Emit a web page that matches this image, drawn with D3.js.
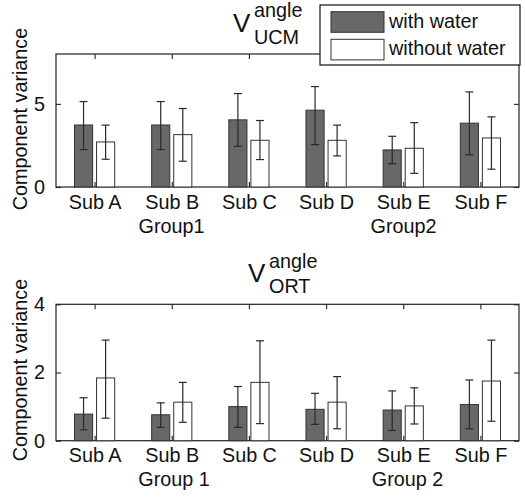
<!DOCTYPE html>
<html><head><meta charset="utf-8">
<script src="https://cdn.jsdelivr.net/npm/d3@7"></script>
<style>
body{margin:0;background:#fff;}
text{font-family:"Liberation Sans",Arial,sans-serif;fill:#111;}
</style></head><body>
<svg id="c" width="525" height="499"></svg>
<script>
const subjects = ["Sub A","Sub B","Sub C","Sub D","Sub E","Sub F"];
const seriesNames = ["with water","without water"];
// UCM panel
const ucmWith      = [3.73, 3.73, 4.04, 4.62, 2.23, 3.84];
const ucmWithHi    = [5.14, 5.14, 5.62, 6.04, 3.05, 5.72];
const ucmWithLo    = [2.25, 2.25, 2.45, 2.55, 1.40, 1.93];
const ucmWithout   = [2.71, 3.15, 2.81, 2.81, 2.33, 2.95];
const ucmWithoutHi = [3.72, 4.72, 4.00, 3.72, 3.87, 4.22];
const ucmWithoutLo = [1.67, 1.55, 1.65, 1.87, 0.82, 1.07];
const ucmTicks = [0, 5];
const ucmGroups = ["Group1", "Group2"];
// ORT panel
const ortWith      = [0.78, 0.76, 1.00, 0.92, 0.90, 1.06];
const ortWithHi    = [1.26, 1.11, 1.59, 1.39, 1.46, 1.78];
const ortWithLo    = [0.32, 0.39, 0.39, 0.48, 0.30, 0.35];
const ortWithout   = [1.84, 1.13, 1.71, 1.13, 1.02, 1.75];
const ortWithoutHi = [2.95, 1.71, 2.93, 1.88, 1.55, 2.95];
const ortWithoutLo = [0.66, 0.54, 0.50, 0.35, 0.49, 0.57];
const ortTicks = [0, 2, 4];
const ortGroups = ["Group 1", "Group 2"];

const svg = d3.select("#c");
const DARK = "#686868";
const FS = 19.8;

function panel(o){
  const g = svg.append("g");
  const x = d3.scaleLinear().domain([0.5, 6.5]).range([56, 519]);
  const y = d3.scaleLinear().domain([0, o.ymax]).range([o.bottom, o.top]);
  const off = 0.143, bw = 0.235;
  const series = [
    {v:o.w, hi:o.wHi, lo:o.wLo, fill:DARK, d:-off},
    {v:o.wo, hi:o.woHi, lo:o.woLo, fill:"#fff", d:off}
  ];
  g.append("rect").attr("x",x(0.5)).attr("y",y(o.ymax))
    .attr("width",x(6.5)-x(0.5)).attr("height",y(0)-y(o.ymax))
    .attr("fill","none").attr("stroke","#222").attr("stroke-width",1.2);
  series.forEach(s=>{
    g.selectAll(null).data(s.v).enter().append("rect")
      .attr("x",(d,i)=>x(i+1+s.d-bw/2)).attr("width",x(bw)-x(0))
      .attr("y",d=>y(d)).attr("height",d=>y(0)-y(d))
      .attr("fill",s.fill).attr("stroke","#333").attr("stroke-width",1);
  });
  series.forEach(s=>{
    s.v.forEach((d,i)=>{
      const cx = x(i+1+s.d);
      const eg = g.append("g").attr("stroke","#2a2a2a").attr("stroke-width",1.2);
      eg.append("line").attr("x1",cx).attr("x2",cx).attr("y1",y(s.hi[i])).attr("y2",y(s.lo[i]));
      eg.append("line").attr("x1",cx-4).attr("x2",cx+4).attr("y1",y(s.hi[i])).attr("y2",y(s.hi[i]));
      eg.append("line").attr("x1",cx-4).attr("x2",cx+4).attr("y1",y(s.lo[i])).attr("y2",y(s.lo[i]));
    });
  });
  const tickLen = 5;
  const ax = (axis, tr)=>{
    const a = g.append("g").attr("transform",tr).call(axis);
    a.select(".domain").remove();
    a.selectAll("line").attr("stroke","#222").attr("stroke-width",1.1);
    a.selectAll("text").attr("font-size",FS).attr("font-family","Liberation Sans, Arial, sans-serif").attr("fill","#111");
    return a;
  };
  ax(d3.axisLeft(y).tickValues(o.ticks).tickSize(-tickLen).tickPadding(6+tickLen).tickFormat(d3.format("d")), `translate(${x(0.5)},0)`);
  ax(d3.axisRight(y).tickValues(o.ticks).tickSize(-tickLen).tickFormat(""), `translate(${x(6.5)},0)`);
  const xb = ax(d3.axisBottom(x).tickValues(d3.range(1,7)).tickSize(-tickLen).tickPadding(0).tickFormat((d)=>subjects[d-1]), `translate(0,${y(0)})`);
  xb.selectAll("text").attr("dy",null).attr("y",o.subY - y(0));
  ax(d3.axisTop(x).tickValues(d3.range(1,7)).tickSize(-tickLen).tickFormat(""), `translate(0,${y(o.ymax)})`);
  g.selectAll(null).data(o.groups).enter().append("text")
    .attr("x",(d,i)=>o.groupX[i]).attr("y",o.groupY).attr("text-anchor","middle")
    .attr("font-size",FS).text(d=>d);
  g.append("text").attr("transform",`translate(${o.ylabX},${o.ylabY}) rotate(-90)`)
    .attr("text-anchor","middle").attr("font-size",FS).text("Component variance");
  const t = o.title;
  g.append("text").attr("x",t.x).attr("y",t.vy).attr("font-size",26).text("V");
  g.append("text").attr("x",t.x+21).attr("y",t.sy).attr("font-size",FS).text("angle");
  g.append("text").attr("x",t.x+21).attr("y",t.uy).attr("font-size",FS).text(t.sub);
  return {x,y};
}

panel({ymax:8, top:54, bottom:187, w:ucmWith, wHi:ucmWithHi, wLo:ucmWithLo,
  wo:ucmWithout, woHi:ucmWithoutHi, woLo:ucmWithoutLo, ticks:ucmTicks,
  groups:ucmGroups, groupX:[171.5,403.5], groupY:233, subY:209,
  ylabX:27, ylabY:119, title:{x:233, vy:32, sy:17, uy:44, sub:"UCM"}});

panel({ymax:4, top:304.3, bottom:440.7, w:ortWith, wHi:ortWithHi, wLo:ortWithLo,
  wo:ortWithout, woHi:ortWithoutHi, woLo:ortWithoutLo, ticks:ortTicks,
  groups:ortGroups, groupX:[174,407.5], groupY:486, subY:462,
  ylabX:27, ylabY:370, title:{x:248, vy:282, sy:268, uy:293, sub:"ORT"}});

const lg = svg.append("g");
lg.append("rect").attr("x",320).attr("y",5).attr("width",200).attr("height",60)
  .attr("fill","#fff").attr("stroke","#111").attr("stroke-width",1.2);
const items = seriesNames.map((n,i)=>({n, fill:i===0?DARK:"#fff"}));
lg.selectAll(null).data(items).enter().append("rect")
  .attr("x",331).attr("y",(d,i)=>11.7+i*27.6).attr("width",53).attr("height",20.6)
  .attr("fill",d=>d.fill).attr("stroke","#333").attr("stroke-width",1);
lg.selectAll(null).data(items).enter().append("text")
  .attr("x",389).attr("y",(d,i)=>28+i*27).attr("font-size",FS).text(d=>d.n);
</script></body></html>
